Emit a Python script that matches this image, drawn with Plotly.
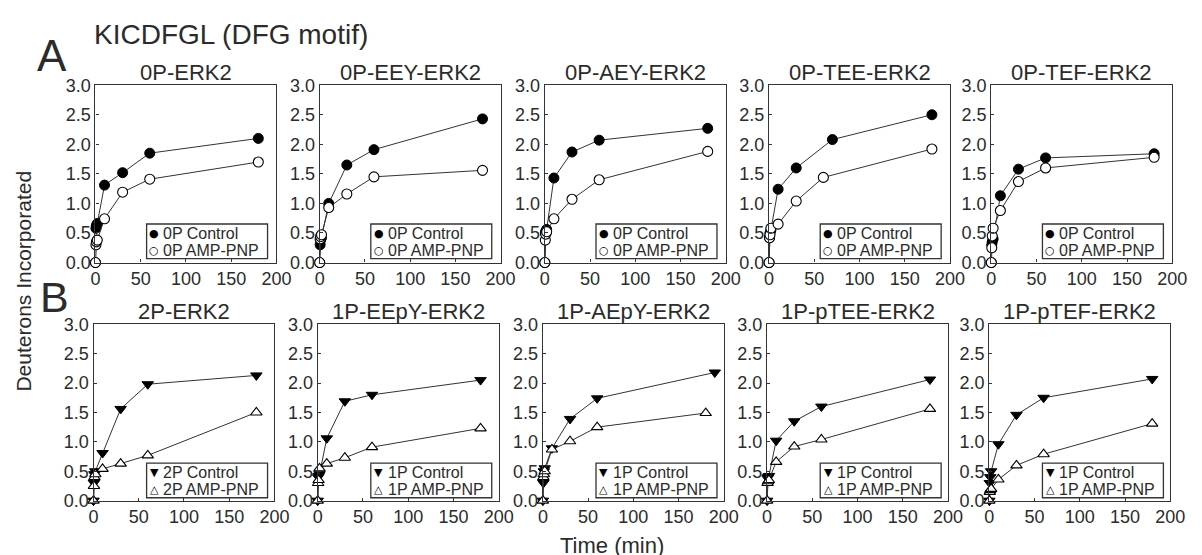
import plotly.graph_objects as go

# ---------------- data ----------------
panel_titles = ["0P-ERK2", "0P-EEY-ERK2", "0P-AEY-ERK2", "0P-TEE-ERK2", "0P-TEF-ERK2",
                "2P-ERK2", "1P-EEpY-ERK2", "1P-AEpY-ERK2", "1P-pTEE-ERK2", "1P-pTEF-ERK2"]
control_labels = ["0P Control"] * 5 + ["2P Control"] + ["1P Control"] * 4
amp_labels = ["0P AMP-PNP"] * 5 + ["2P AMP-PNP"] + ["1P AMP-PNP"] * 4

time_std = [0, 0.5, 1, 2, 10, 30, 60, 180]     # min
time_tee_ctrl = [0, 0.5, 1, 2, 10, 30, 70, 180]
time_aepy_ctrl = [0, 0.5, 1, 2, 10, 30, 60, 190]

a1_ctrl = [0, 0.58, 0.63, 0.66, 1.31, 1.52, 1.85, 2.10]
a1_amp = [0, 0.30, 0.35, 0.38, 0.74, 1.19, 1.41, 1.70]
a2_ctrl = [0, 0.30, 0.38, 0.42, 1.00, 1.65, 1.91, 2.43]
a2_amp = [0, 0.40, 0.44, 0.47, 0.93, 1.16, 1.45, 1.56]
a3_ctrl = [0, 0.50, 0.53, 0.56, 1.43, 1.87, 2.07, 2.27]
a3_amp = [0, 0.38, 0.48, 0.52, 0.74, 1.07, 1.40, 1.88]
a4_ctrl = [0, 0.42, 0.50, 0.55, 1.24, 1.60, 2.08, 2.50]
a4_amp = [0, 0.42, 0.47, 0.58, 0.65, 1.04, 1.44, 1.92]
a5_ctrl = [0, 0.30, 0.35, 0.40, 1.13, 1.58, 1.77, 1.84]
a5_amp = [0, 0.25, 0.45, 0.58, 0.88, 1.37, 1.60, 1.78]
b1_ctrl = [0, 0.30, 0.45, 0.50, 0.81, 1.56, 1.98, 2.13]
b1_amp = [0, 0.25, 0.40, 0.45, 0.54, 0.63, 0.77, 1.50]
b2_ctrl = [0, 0.40, 0.42, 0.45, 1.06, 1.69, 1.80, 2.05]
b2_amp = [0, 0.30, 0.35, 0.55, 0.63, 0.73, 0.91, 1.23]
b3_ctrl = [0, 0.30, 0.50, 0.55, 0.89, 1.39, 1.74, 2.18]
b3_amp = [0, 0.40, 0.45, 0.50, 0.87, 1.01, 1.25, 1.49]
b4_ctrl = [0, 0.38, 0.40, 0.42, 1.02, 1.35, 1.60, 2.06]
b4_amp = [0, 0.30, 0.33, 0.35, 0.66, 0.92, 1.04, 1.56]
b5_ctrl = [0, 0.30, 0.40, 0.50, 0.96, 1.46, 1.75, 2.07]
b5_amp = [0, 0.15, 0.18, 0.20, 0.36, 0.60, 0.79, 1.31]

ctrl_times = [time_std, time_std, time_std, time_tee_ctrl, time_std,
              time_std, time_std, time_aepy_ctrl, time_std, time_std]
amp_times = [time_std] * 10
ctrl_values = [a1_ctrl, a2_ctrl, a3_ctrl, a4_ctrl, a5_ctrl, b1_ctrl, b2_ctrl, b3_ctrl, b4_ctrl, b5_ctrl]
amp_values = [a1_amp, a2_amp, a3_amp, a4_amp, a5_amp, b1_amp, b2_amp, b3_amp, b4_amp, b5_amp]

x_ticks = [0, 50, 100, 150, 200]
y_ticks = [0, 0.5, 1.0, 1.5, 2.0, 2.5, 3.0]

# ---------------- layout constants ----------------
W, H = 1202, 555
FONT = "Liberation Sans, Arial, sans-serif"
TXT = "#2b2b2b"
LINE = "#333333"
PANEL_W = 184
row_x0 = [[92, 320, 549, 777, 1003], [90, 318, 547, 775, 1001]]
row_y = [(78, 262), (326, 509)]
legend_box = [(52, 222, 258), (54, 470, 506)]   # x offset from panel left, top, bottom
LEG_W = 123


def px(x):
    return x / W


def py(y):
    return 1 - y / H


fig = go.Figure()
annotations = []
shapes = []

for i in range(10):
    r, c = divmod(i, 5)
    x0 = row_x0[r][c]
    ytop, ybot = row_y[r]
    ax = "" if i == 0 else str(i + 1)
    xa, ya = "x" + ax, "y" + ax
    if r == 0:
        sym_c, sym_a = "circle", "circle"
        leg_c, leg_a = "●", "○"
    else:
        sym_c, sym_a = "triangle-down", "triangle-up"
        leg_c, leg_a = "▼", "△"

    fig.add_trace(go.Scatter(
        x=ctrl_times[i], y=ctrl_values[i], mode="lines+markers", name=control_labels[i],
        xaxis=xa, yaxis=ya, cliponaxis=False, showlegend=False,
        line=dict(color=LINE, width=1),
        marker=dict(symbol=sym_c, size=10, color="black", line=dict(color="black", width=1))))
    fig.add_trace(go.Scatter(
        x=amp_times[i], y=amp_values[i], mode="lines+markers", name=amp_labels[i],
        xaxis=xa, yaxis=ya, cliponaxis=False, showlegend=False,
        line=dict(color=LINE, width=1),
        marker=dict(symbol=sym_a, size=10, color="white",
                    line=dict(color="black", width=1.1))))

    axis_common = dict(showline=True, mirror=True, linecolor=LINE, linewidth=1.3,
                       ticks="inside", ticklen=3, tickcolor=LINE, showgrid=False,
                       zeroline=False, tickfont=dict(family=FONT, size=18, color=TXT))
    fig.update_layout(**{
        ("xaxis" + ax): dict(domain=[px(x0), px(x0 + PANEL_W)], range=[0, 200],
                             tickvals=x_ticks, anchor=ya, **axis_common),
        ("yaxis" + ax): dict(domain=[py(ybot), py(ytop)], range=[0, 3], tickvals=y_ticks,
                             tickformat=".1f", anchor=xa, **axis_common),
    })

    # panel title
    annotations.append(dict(text=panel_titles[i], x=px(x0 + PANEL_W / 2), y=py(ytop - 13),
                            xref="paper", yref="paper", showarrow=False,
                            font=dict(family=FONT, size=22, color=TXT),
                            xanchor="center", yanchor="middle"))

    # legend box
    lx, ltop, lbot = legend_box[r]
    bl = x0 + lx
    shapes.append(dict(type="rect", xref="paper", yref="paper",
                       x0=px(bl), x1=px(bl + LEG_W), y0=py(lbot), y1=py(ltop),
                       line=dict(color=LINE, width=1.3), fillcolor="rgba(0,0,0,0)"))
    for k, (sym, lab) in enumerate([(leg_c, control_labels[i]), (leg_a, amp_labels[i])]):
        yy = ltop + 10 + 17 * k
        annotations.append(dict(text=sym, x=px(bl + 8), y=py(yy), xref="paper", yref="paper",
                                showarrow=False, xanchor="center", yanchor="middle",
                                font=dict(family="DejaVu Sans", size=11, color="black")))
        annotations.append(dict(text=lab, x=px(bl + 15), y=py(yy), xref="paper", yref="paper",
                                showarrow=False, xanchor="left", yanchor="middle",
                                font=dict(family=FONT, size=16, color=TXT)))

# figure-level texts
annotations += [
    dict(text="KICDFGL (DFG motif)", x=px(88), y=py(25), xanchor="left", yanchor="middle",
         font=dict(family=FONT, size=28, color=TXT)),
    dict(text="A", x=px(48), y=py(47), xanchor="center", yanchor="middle",
         font=dict(family=FONT, size=44, color=TXT)),
    dict(text="B", x=px(50), y=py(298), xanchor="center", yanchor="middle",
         font=dict(family=FONT, size=43, color=TXT)),
    dict(text="Deuterons Incorporated", x=px(19), y=py(281), textangle=-90,
         xanchor="center", yanchor="middle", font=dict(family=FONT, size=21, color=TXT)),
    dict(text="Time (min)", x=px(617), y=py(540), xanchor="center", yanchor="top",
         font=dict(family=FONT, size=22, color=TXT)),
]
for a in annotations[-5:]:
    a.update(xref="paper", yref="paper", showarrow=False)

fig.update_layout(width=W, height=H, margin=dict(l=0, r=0, t=0, b=0),
                  paper_bgcolor="white", plot_bgcolor="white", showlegend=False,
                  annotations=annotations, shapes=shapes)

fig.write_html("out.html",
               config={"displayModeBar": False},
               post_script="var gd=document.getElementById('{plot_id}');"
                           "document.documentElement.style.margin='0';"
                           "document.documentElement.style.overflow='hidden';"
                           "document.body.style.margin='0';"
                           "document.body.style.padding='0';"
                           "document.body.style.overflow='hidden';"
                           "gd.style.display='block';"
                           "if(gd.parentElement){gd.parentElement.style.height='555px';"
                           "gd.parentElement.style.overflow='hidden';}")
